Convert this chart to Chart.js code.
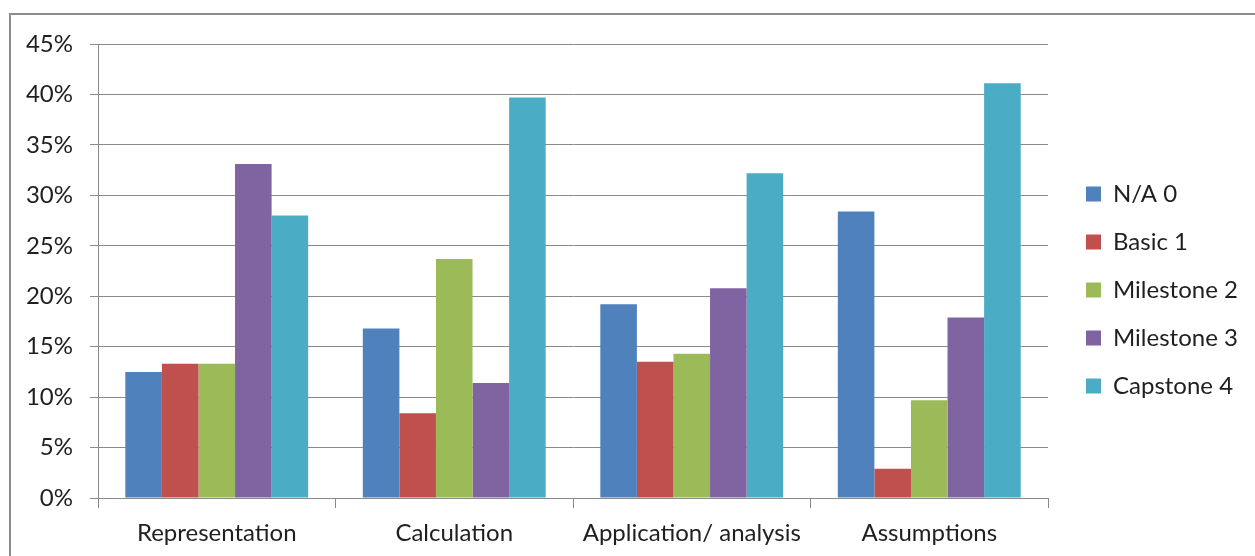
<!DOCTYPE html>
<html>
<head>
<meta charset="utf-8">
<script src="https://cdn.jsdelivr.net/npm/chart.js@4.4.1/dist/chart.umd.min.js"></script>
<style>
  html, body { margin: 0; padding: 0; background: #ffffff; }
  #wrap { position: relative; width: 1255px; height: 556px; }
  canvas { display: block; }
</style>
</head>
<body>
<div id="wrap"><canvas id="chart" width="1255" height="556"></canvas></div>
<script>
// Rubric dimensions and the share of scores at each level (percent)
const categories = ['Representation', 'Calculation', 'Application/ analysis', 'Assumptions'];
const levels = ['N/A 0', 'Basic 1', 'Milestone 2', 'Milestone 3', 'Capstone 4'];
const naZero      = [12.5, 16.8, 19.2, 28.4];
const basicOne    = [13.3,  8.4, 13.5,  2.9];
const milestone2  = [13.3, 23.7, 14.3,  9.7];
const milestone3  = [33.1, 11.4, 20.8, 17.9];
const capstone4   = [28.0, 39.7, 32.2, 41.1];
const yTicks      = [0, 5, 10, 15, 20, 25, 30, 35, 40, 45];

const seriesValues = [naZero, basicOne, milestone2, milestone3, capstone4];
const seriesColors = ['#4F81BD', '#C0504D', '#9BBB59', '#8064A2', '#4BACC6'];

const FONT = 'Lato';
const AXIS_SIZE = 24;
const LEGEND_SIZE = 24;
const TEXT = '#1f1f1f';
const GRID = '#8a8a8a';

// Outer frame of the chart (top and left edges)
const framePlugin = {
  id: 'frame',
  beforeDraw(chart) {
    const ctx = chart.ctx;
    ctx.save();
    ctx.strokeStyle = '#8c8c8c';
    ctx.lineWidth = 2;
    ctx.beginPath();
    ctx.moveTo(10, 556);
    ctx.lineTo(10, 14);
    ctx.lineTo(1255, 14);
    ctx.stroke();
    ctx.restore();
  }
};

const plotRight = 1048;
const legendBox = 15;
const legendPad = 24;
const legendItemLeft = 1086;

const chart = new Chart(document.getElementById('chart'), {
  type: 'bar',
  data: {
    labels: categories,
    datasets: levels.map((name, i) => ({
      label: name,
      data: seriesValues[i],
      backgroundColor: seriesColors[i],
      borderWidth: 0,
      categoryPercentage: 0.77,
      barPercentage: 1.0
    }))
  },
  plugins: [framePlugin],
  options: {
    responsive: false,
    animation: false,
    layout: { padding: { top: 44, left: 0, right: 30, bottom: 0 } },
    plugins: {
      tooltip: { enabled: false },
      legend: {
        position: 'right',
        fullSize: false,
        // empty title acts as a spacer above the legend entries
        title: { display: true, text: '', font: { size: 10 }, padding: { top: 13, bottom: 13 } },
        labels: {
          boxWidth: legendBox,
          boxHeight: legendBox,
          padding: legendPad,
          color: TEXT,
          font: { family: FONT, size: LEGEND_SIZE }
        }
      }
    },
    scales: {
      x: {
        offset: true,
        grid: {
          offset: true,
          drawOnChartArea: false,
          drawTicks: true,
          tickLength: 10,
          color: GRID,
          lineWidth: 1
        },
        border: { display: true, color: GRID, width: 1 },
        ticks: { color: TEXT, font: { family: FONT, size: AXIS_SIZE }, padding: 11, maxRotation: 0 },
        afterFit(scale) { scale.height = 58; }
      },
      y: {
        min: 0,
        max: 45,
        afterBuildTicks(scale) { scale.ticks = yTicks.map(v => ({ value: v })); },
        grid: { color: GRID, lineWidth: 1, tickLength: 8 },
        border: { display: true, color: GRID, width: 1 },
        ticks: {
          color: TEXT,
          font: { family: FONT, size: AXIS_SIZE },
          padding: 17,
          callback: v => v + '%'
        },
        afterFit(scale) { scale.width = 98; }
      },
      gap: {
        position: 'right',
        display: true,
        grid: { display: false },
        border: { display: false },
        ticks: { display: false },
        afterFit(scale) { scale.width = legendItemLeft - legendPad - plotRight; }
      }
    }
  }
});

// Slide the legend so its swatches start at legendItemLeft
const shift = chart.legend.left + legendPad - legendItemLeft;
if (Math.abs(shift) > 0.5) {
  chart.options.layout.padding.right += shift;
  chart.update();
}
</script>
</body>
</html>
